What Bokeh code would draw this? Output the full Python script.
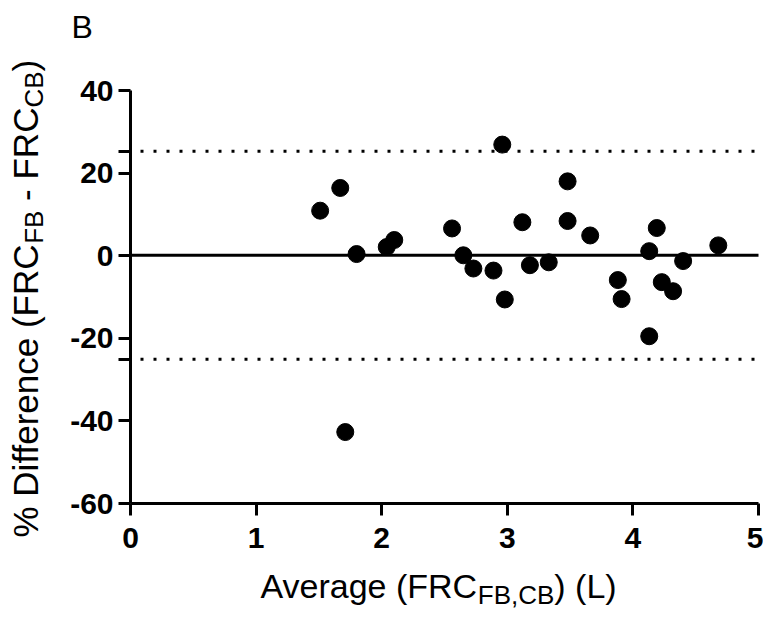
import math
from bokeh.plotting import figure
from bokeh.models import Label, FixedTicker, CustomJSTickFormatter, Range1d
from bokeh.embed import file_html
from bokeh.resources import INLINE

# ---- data ----
avg_frc = [1.51, 1.67, 1.80, 2.04, 2.10, 1.71, 2.56, 2.65, 2.73, 2.89, 2.98, 2.96, 3.12, 3.18,
           3.33, 3.48, 3.48, 3.66, 3.88, 3.91, 4.19, 4.13, 4.13, 4.23, 4.32, 4.40, 4.68]
pct_diff = [10.9, 16.4, 0.4, 2.1, 3.8, -42.7, 6.6, 0.1, -3.1, -3.6, -10.6, 26.9, 8.1, -2.3,
            -1.6, 18.0, 8.4, 4.9, -5.9, -10.5, 6.7, 1.1, -19.5, -6.4, -8.6, -1.3, 2.5]
bias = 0.1
loa_upper = 25.3
loa_lower = -25.1
x_ticks = [0, 1, 2, 3, 4, 5]
y_ticks = [-60, -40, -20, 0, 20, 40]
panel_letter = "B"

# ---- layout (canvas pixels) ----
W, H = 763, 609
FL, FR, FT, FB = 130, 758, 90, 503          # where the axes box sits
X0, X1 = x_ticks[0], x_ticks[-1]
Y0, Y1 = y_ticks[0], y_ticks[-1]
kx = (FR - FL) / (X1 - X0)
ky = (FB - FT) / (Y1 - Y0)
xs, xe = X0 - FL / kx, X1 + (W - FR) / kx
ys, ye = Y0 - (H - FB) / ky, Y1 + FT / ky

p = figure(width=W, height=H, output_backend="svg", toolbar_location=None,
           x_range=Range1d(xs, xe), y_range=Range1d(ys, ye), min_border=0)
p.outline_line_color = None
p.grid.visible = False
p.background_fill_color = "white"
p.border_fill_color = "white"

def dx(px):
    return xs + px / kx

def dy(py):
    return ye - py / ky

xa, ya = p.xaxis[0], p.yaxis[0]
for ax in (xa, ya):
    ax.axis_line_width = 3
    ax.axis_line_color = "black"
    ax.major_tick_line_width = 3
    ax.major_tick_line_color = "black"
    ax.major_tick_out = 12
    ax.major_tick_in = 0
    ax.minor_tick_out = 0
    ax.minor_tick_in = 0
    ax.major_label_text_font = "Liberation Sans"
    ax.major_label_text_font_style = "bold"
    ax.major_label_text_font_size = "30px"
    ax.major_label_text_color = "black"
    ax.axis_label = None

xa.fixed_location = Y0
xa.bounds = (X0, X1)
xa.major_label_standoff = 12
xa.ticker = FixedTicker(ticks=x_ticks)

ya.fixed_location = X0
ya.bounds = (Y0, Y1)
ya.major_label_standoff = 5
ya.ticker = FixedTicker(ticks=y_ticks + [loa_upper, loa_lower])
ya.formatter = CustomJSTickFormatter(
    code="return (Math.abs(tick % 20) < 1e-9) ? tick.toFixed(0) : '';")

# reference lines: bias (solid) and limits of agreement (dotted)
p.segment(x0=[X0], x1=[X1], y0=[bias], y1=[bias], line_color="black", line_width=3)
p.segment(x0=[X0, X0], x1=[X1, X1], y0=[loa_upper, loa_lower], y1=[loa_upper, loa_lower],
          line_color="black", line_width=3, line_dash="3 10", line_dash_offset=3)

p.scatter(avg_frc, pct_diff, size=17, fill_color="black", line_color="black")

# ---- composite axis labels with subscripts ----
NB = "\u00a0"
WID = {' ': 278, NB: 278, '%': 889, '(': 333, ')': 333, ',': 278, '-': 333, 'A': 667,
       'B': 667, 'C': 722, 'D': 722, 'F': 611, 'L': 556, 'R': 722, 'a': 556, 'c': 500,
       'e': 556, 'f': 278, 'g': 556, 'i': 222, 'n': 556, 'r': 333, 'v': 500}

def tw(s, size):
    return sum(WID.get(c, 556) for c in s) / 1000.0 * size

FONT = "Liberation Sans"
SHIFT = 0.34          # measured anchor-to-baseline correction, in em
MAIN_X, SUB_X = 34, 26
MAIN_Y, SUB_Y = 35, 26

x_parts = [("Average" + NB + "(FRC", False), ("FB,CB", True), (")" + NB + "(L)", False)]
cx, base = 260, 597
for txt, sub in x_parts:
    size = SUB_X if sub else MAIN_X
    yy = base + (6 if sub else 0) - SHIFT * size
    p.add_layout(Label(x=dx(cx), y=dy(yy), text=txt, text_font=FONT,
                       text_font_size=f"{size}px", text_align="left",
                       text_baseline="alphabetic", text_color="black"))
    cx += tw(txt, size)

y_parts = [("%" + NB + "Difference" + NB + "(FRC", False), ("FB", True),
           (NB + "-" + NB + "FRC", False), ("CB", True), (")", False)]
cy, basex = 537, 37
for txt, sub in y_parts:
    size = SUB_Y if sub else MAIN_Y
    xx = basex + (5 if sub else 0) - SHIFT * size
    p.add_layout(Label(x=dx(xx), y=dy(cy), text=txt, text_font=FONT,
                       text_font_size=f"{size}px", text_align="left",
                       text_baseline="alphabetic", angle=math.pi / 2, text_color="black"))
    cy -= tw(txt, size)

p.add_layout(Label(x=dx(71), y=dy(37 - SHIFT * 32), text=panel_letter, text_font=FONT,
                   text_font_size="32px", text_align="left", text_baseline="alphabetic",
                   text_color="black"))

open("out.html", "w").write(file_html(p, INLINE))
